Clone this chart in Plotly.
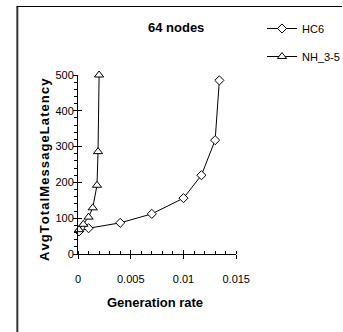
import plotly.graph_objects as go

# ---- data ----
hc6_x = [0.0001, 0.001, 0.004, 0.007, 0.010, 0.0117, 0.0130, 0.0134]
hc6_y = [63, 72, 87, 112, 156, 220, 318, 485]
nh_x = [0.0001, 0.0005, 0.0010, 0.0014, 0.0018, 0.0019, 0.0020]
nh_y = [68, 83, 103, 129, 192, 286, 500]
x_ticks = [0, 0.005, 0.01, 0.015]
x_ticktext = ["0", "0.005", "0.01", "0.015"]
y_ticks = [0, 100, 200, 300, 400, 500]

title_text = "64 nodes"
x_title = "Generation rate"
y_title = "AvgTotalMessageLatency"

WID, HEI = 343, 332
L, R, T, B = 78, 102, 75, 78
PW, PH = WID - L - R, HEI - T - B

def px(x):
    return (x - L) / PW

def py(y):
    return (HEI - B - y) / PH

FONT = "Liberation Sans, Arial, sans-serif"

fig = go.Figure()
fig.add_trace(go.Scatter(
    x=hc6_x, y=hc6_y, name="HC6", mode="lines+markers",
    line=dict(color="black", width=1),
    marker=dict(symbol="diamond", size=7, color="white", line=dict(color="black", width=1)),
    cliponaxis=False, legend="legend"))
fig.add_trace(go.Scatter(
    x=nh_x, y=nh_y, name="NH_3-5", mode="lines+markers",
    line=dict(color="black", width=1),
    marker=dict(symbol="triangle-up", size=8, color="white", line=dict(color="black", width=1)),
    cliponaxis=False, legend="legend2"))
# invisible trace to activate overlay axes
fig.add_trace(go.Scatter(x=[None], y=[None], xaxis="x2", yaxis="y2", showlegend=False, hoverinfo="skip"))

axis_common = dict(showgrid=False, zeroline=False, color="black")
fig.update_layout(
    width=WID, height=HEI,
    margin=dict(l=L, r=R, t=T, b=B),
    paper_bgcolor="white", plot_bgcolor="white",
    font=dict(family=FONT, color="black", size=11),
    xaxis=dict(range=[0, 0.015], tickvals=x_ticks, ticktext=x_ticktext,
               ticks="outside", ticklen=4, tickwidth=1, tickcolor="black",
               showline=True, linecolor="black", linewidth=1,
               ticklabelstandoff=11,
               minor=dict(dtick=0.001, ticks="inside", ticklen=3, tickcolor="black"),
               tickfont=dict(size=11), **axis_common),
    yaxis=dict(range=[0, 500], tickvals=y_ticks,
               ticks="outside", ticklen=4, tickwidth=1, tickcolor="black",
               showline=True, linecolor="black", linewidth=1,
               ticklabelstandoff=-3,
               minor=dict(dtick=20, ticks="outside", ticklen=3, tickcolor="black"),
               tickfont=dict(size=11), **axis_common),
    xaxis2=dict(range=[0, 0.015], overlaying="x", tickvals=x_ticks, ticks="inside",
                ticklen=4, tickcolor="black", showticklabels=False, showline=False, **axis_common),
    yaxis2=dict(range=[0, 500], overlaying="y", tickvals=y_ticks, ticks="inside",
                ticklen=4, tickcolor="black", showticklabels=False, showline=False, **axis_common),
    legend=dict(xref="container", yref="container", x=262 / WID, y=1 - 14 / HEI,
                xanchor="left", yanchor="top", font=dict(size=11, family=FONT),
                bgcolor="rgba(0,0,0,0)", itemwidth=30),
    legend2=dict(xref="container", yref="container", x=262 / WID, y=1 - 42 / HEI,
                 xanchor="left", yanchor="top", font=dict(size=11, family=FONT),
                 bgcolor="rgba(0,0,0,0)", itemwidth=30),
    showlegend=True,
)

hs = "\u200a"
fig.add_annotation(text="<b>" + title_text + "</b>", x=px(179), y=py(27), xref="paper", yref="paper",
                   xanchor="center", yanchor="middle",
                   showarrow=False, font=dict(size=13, family=FONT))
fig.add_annotation(text="<b>" + x_title + "</b>", x=px(157), y=py(302), xref="paper", yref="paper",
                   xanchor="center", yanchor="middle",
                   showarrow=False, font=dict(size=13, family=FONT))
fig.add_annotation(text="<b>" + hs.join(y_title) + "</b>", x=px(43), y=py(170), xref="paper", yref="paper",
                   xanchor="center", yanchor="middle",
                   showarrow=False, textangle=-90, font=dict(size=13, family=FONT))

# page frame
fig.add_shape(type="line", xref="paper", yref="paper", x0=px(15.5), x1=px(15.5), y0=py(6), y1=py(340),
              line=dict(color="#333333", width=2))
fig.add_shape(type="line", xref="paper", yref="paper", x0=px(15), x1=px(350), y0=py(6.5), y1=py(6.5),
              line=dict(color="black", width=1))

fig.write_html("out.html")
